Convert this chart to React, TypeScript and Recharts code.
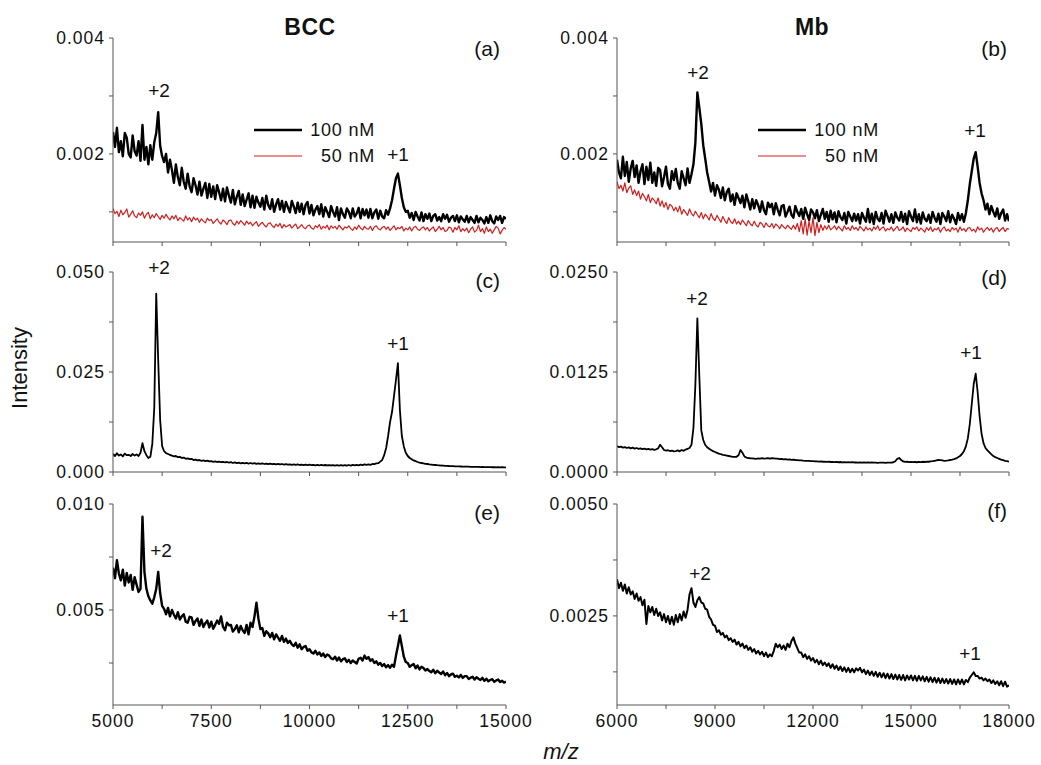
import React from 'react';
import { LineChart, Line, XAxis, YAxis, ReferenceDot, Legend } from 'recharts';

// ---------- m/z grids ----------
const mzBCC = [
  5000,5050,5100,5150,5200,5250,5300,5350,5400,5450,
  5500,5550,5600,5650,5700,5750,5800,5850,5900,5950,
  6000,6050,6100,6150,6200,6250,6300,6350,6400,6450,
  6500,6550,6600,6650,6700,6750,6800,6850,6900,6950,
  7000,7050,7100,7150,7200,7250,7300,7350,7400,7450,
  7500,7550,7600,7650,7700,7750,7800,7850,7900,7950,
  8000,8050,8100,8150,8200,8250,8300,8350,8400,8450,
  8500,8550,8600,8650,8700,8750,8800,8850,8900,8950,
  9000,9050,9100,9150,9200,9250,9300,9350,9400,9450,
  9500,9550,9600,9650,9700,9750,9800,9850,9900,9950,
  10000,10050,10100,10150,10200,10250,10300,10350,10400,10450,
  10500,10550,10600,10650,10700,10750,10800,10850,10900,10950,
  11000,11050,11100,11150,11200,11250,11300,11350,11400,11450,
  11500,11550,11600,11650,11700,11750,11800,11850,11900,11950,
  12000,12050,12100,12150,12200,12250,12300,12350,12400,12450,
  12500,12550,12600,12650,12700,12750,12800,12850,12900,12950,
  13000,13050,13100,13150,13200,13250,13300,13350,13400,13450,
  13500,13550,13600,13650,13700,13750,13800,13850,13900,13950,
  14000,14050,14100,14150,14200,14250,14300,14350,14400,14450,
  14500,14550,14600,14650,14700,14750,14800,14850,14900,14950,
  15000,
];

const mzMb = [
  6000,6060,6120,6180,6240,6300,6360,6420,6480,6540,
  6600,6660,6720,6780,6840,6900,6960,7020,7080,7140,
  7200,7260,7320,7380,7440,7500,7560,7620,7680,7740,
  7800,7860,7920,7980,8040,8100,8160,8220,8280,8340,
  8400,8460,8520,8580,8640,8700,8760,8820,8880,8940,
  9000,9060,9120,9180,9240,9300,9360,9420,9480,9540,
  9600,9660,9720,9780,9840,9900,9960,10020,10080,10140,
  10200,10260,10320,10380,10440,10500,10560,10620,10680,10740,
  10800,10860,10920,10980,11040,11100,11160,11220,11280,11340,
  11400,11460,11520,11580,11640,11700,11760,11820,11880,11940,
  12000,12060,12120,12180,12240,12300,12360,12420,12480,12540,
  12600,12660,12720,12780,12840,12900,12960,13020,13080,13140,
  13200,13260,13320,13380,13440,13500,13560,13620,13680,13740,
  13800,13860,13920,13980,14040,14100,14160,14220,14280,14340,
  14400,14460,14520,14580,14640,14700,14760,14820,14880,14940,
  15000,15060,15120,15180,15240,15300,15360,15420,15480,15540,
  15600,15660,15720,15780,15840,15900,15960,16020,16080,16140,
  16200,16260,16320,16380,16440,16500,16560,16620,16680,16740,
  16800,16860,16920,16980,17040,17100,17160,17220,17280,17340,
  17400,17460,17520,17580,17640,17700,17760,17820,17880,17940,
  18000,
];

// ---------- intensities (units of 1e-5) ----------
// (a) BCC, 100 nM
const bcc100nM = [
  238,212,245,203,222,196,236,228,200,194,
  232,205,197,222,188,250,190,212,182,215,
  190,220,236,272,214,196,186,200,168,190,
  172,150,182,160,146,176,152,140,166,144,
  134,158,146,130,152,128,140,150,124,148,
  126,144,122,146,134,120,140,118,142,128,
  116,138,113,126,136,112,130,110,121,132,
  108,128,107,126,116,109,124,104,128,112,
  105,122,100,113,122,104,119,100,117,108,
  99,119,109,98,116,100,114,96,112,117,
  97,112,94,104,110,96,113,92,108,100,
  91,110,100,92,108,86,106,96,90,106,
  100,89,106,92,97,107,89,105,94,104,
  90,105,89,99,104,88,102,92,89,103,
  95,106,120,140,158,166,146,124,108,100,
  102,90,98,86,100,92,85,99,84,96,
  88,97,84,93,96,85,91,84,96,88,
  95,83,90,93,84,94,82,92,87,83,
  93,82,91,86,81,93,82,90,86,80,
  91,81,94,84,80,92,86,93,81,91,
  88,
];
// (a) BCC, 50 nM
const bcc50nM = [
  106,97,101,92,103,95,99,105,91,96,
  102,93,90,98,94,100,89,96,99,88,
  95,90,97,92,87,94,89,96,90,86,
  93,88,94,85,90,87,84,93,86,90,
  83,91,86,89,82,88,84,81,89,85,
  87,80,84,88,82,79,86,83,78,85,
  86,80,77,84,79,85,81,77,84,79,
  82,76,80,83,75,79,82,77,74,80,
  81,76,73,79,75,80,72,78,74,76,
  78,72,76,79,71,74,78,73,71,76,
  77,72,70,76,73,78,70,75,72,77,
  69,76,72,75,70,77,73,69,74,72,
  76,71,68,74,70,77,72,69,75,71,
  70,75,68,74,76,71,69,73,75,70,
  74,68,72,76,69,73,71,75,67,72,
  69,74,67,73,75,70,68,72,74,69,
  73,67,71,74,66,70,75,69,73,66,
  68,74,72,65,73,69,76,66,71,67,
  72,64,70,74,65,68,77,66,71,63,
  74,66,70,63,69,75,72,62,68,73,
  70,
];
// (b) Mb, 100 nM
const mb100nM = [
  190,168,158,195,162,186,152,175,188,160,
  180,150,170,182,148,178,155,185,150,168,
  145,176,172,144,160,178,148,140,170,155,
  174,150,140,170,158,146,175,150,165,182,
  220,306,280,252,215,192,168,152,135,150,
  128,146,138,124,142,120,134,140,118,130,
  112,132,124,115,128,108,130,118,104,122,
  106,120,112,100,118,103,96,116,108,114,
  96,115,104,94,110,112,92,100,109,95,
  90,110,100,93,105,88,107,96,86,104,
  99,89,103,84,95,105,88,100,83,102,
  87,99,82,101,91,86,98,80,100,92,
  84,97,85,96,80,98,90,83,105,82,
  97,79,100,88,84,98,80,102,93,83,
  96,81,99,90,85,100,83,97,79,101,
  92,84,104,82,96,80,99,88,84,95,
  81,100,90,83,97,79,98,92,84,101,
  82,95,88,79,98,86,96,83,98,120,
  148,170,192,203,178,150,132,120,104,114,
  96,110,100,92,106,88,98,104,85,96,
  84,
];
// (b) Mb, 50 nM
const mb50nM = [
  152,140,146,136,150,133,141,145,130,138,
  128,136,122,132,126,119,130,116,124,120,
  114,124,110,119,108,116,104,113,110,102,
  108,100,110,96,104,99,94,105,97,93,
  101,95,90,99,88,96,92,86,97,89,
  85,94,88,82,92,85,80,90,83,80,
  88,79,84,78,86,81,76,85,79,76,
  84,77,74,82,79,73,81,76,74,80,
  72,79,76,71,78,74,71,77,73,70,
  77,70,80,66,85,62,88,60,84,64,
  90,59,82,64,78,68,76,70,77,69,
  72,76,69,75,71,67,76,70,73,68,
  76,70,73,68,75,71,67,74,69,72,
  67,74,70,76,68,72,74,67,71,69,
  74,67,71,75,68,70,74,66,72,69,
  66,73,70,74,67,72,69,65,73,68,
  74,66,71,69,73,65,71,74,67,70,
  66,73,69,72,65,74,68,71,66,72,
  73,67,70,65,74,69,72,65,70,73,
  68,72,65,71,73,66,70,73,66,71,
  70,
];
// (c) BCC
const bccC = [
  450,400,470,410,440,390,460,420,430,400,
  450,410,440,400,480,720,520,420,350,380,
  700,1600,4460,2800,1300,650,520,470,450,430,
  410,390,400,370,380,350,360,330,340,320,
  330,300,310,290,300,280,290,270,285,265,
  270,255,265,250,260,245,255,240,250,235,
  245,225,240,220,235,218,230,215,228,212,
  225,210,222,205,218,202,215,200,212,198,
  210,195,205,190,202,188,200,185,195,183,
  192,180,190,178,188,175,186,173,184,172,
  182,170,180,168,178,166,176,165,175,164,
  174,163,172,160,171,160,170,158,172,160,
  175,162,178,165,180,168,185,172,190,178,
  190,180,200,195,215,220,260,300,420,600,
  900,1250,1500,1900,2300,2720,1550,900,640,480,
  400,350,320,290,270,250,235,225,215,205,
  200,190,185,178,175,170,168,162,160,155,
  155,150,148,145,143,140,140,138,136,134,
  135,132,130,128,130,126,127,124,126,122,
  124,120,122,119,121,118,120,117,119,116,
  118,
];
// (d) Mb
const mbD = [
  325,310,318,305,312,300,308,296,304,292,
  300,290,296,286,292,284,288,280,285,278,
  284,295,340,310,275,268,272,262,268,258,
  262,270,258,275,265,280,290,300,340,550,
  1100,1920,1200,520,400,340,310,290,275,260,
  250,240,230,222,215,210,205,200,195,190,
  188,190,210,275,240,195,180,175,172,170,
  168,165,170,166,172,168,170,174,168,172,
  170,166,168,162,165,158,160,155,157,152,
  154,150,148,145,146,142,140,138,140,136,
  135,132,134,130,132,128,130,127,129,125,
  127,124,126,122,125,121,124,120,123,120,
  122,119,121,118,121,117,120,117,119,116,
  119,116,118,115,118,116,117,115,118,116,
  118,122,135,165,175,150,132,126,128,124,
  126,123,125,122,126,124,128,125,130,128,
  132,135,140,145,150,148,145,140,142,145,
  150,155,162,170,185,200,225,260,320,420,
  600,850,1100,1230,1000,700,480,360,300,270,
  245,220,200,185,175,165,155,148,140,135,
  130,
];
// (e) BCC
const bccE = [
  700,650,735,672,640,690,615,675,630,665,
  595,655,620,585,600,940,680,600,565,545,
  530,560,600,680,580,520,505,480,510,470,
  500,478,460,490,455,470,480,445,440,468,
  465,430,448,460,425,455,420,438,450,418,
  445,412,430,450,435,470,420,405,440,428,
  430,398,410,428,395,425,404,392,430,385,
  440,420,470,535,460,410,415,378,400,390,
  372,392,362,385,370,355,378,350,365,345,
  355,338,330,345,322,338,315,326,330,308,
  315,300,295,308,290,300,283,295,278,290,
  285,272,268,280,262,276,258,268,272,255,
  265,250,262,255,248,270,275,262,285,270,
  278,260,268,250,258,242,250,236,245,230,
  240,228,242,232,285,330,380,330,280,255,
  250,232,240,245,225,238,220,232,226,215,
  222,212,206,218,202,214,205,198,210,192,
  203,188,196,200,185,190,182,194,180,188,
  188,175,181,185,172,183,176,170,180,166,
  176,164,170,174,162,168,172,160,166,158,
  162,
];
// (f) Mb
const mbF = [
  332,312,324,306,320,300,314,298,305,288,
  300,284,292,274,286,232,272,258,270,252,
  266,250,258,240,254,236,250,232,248,230,
  252,236,254,240,260,246,264,298,312,280,
  270,285,292,280,278,266,264,248,242,230,
  228,214,218,208,212,202,206,196,200,192,
  197,186,192,182,188,178,184,174,180,170,
  176,166,172,164,170,160,168,158,164,160,
  172,188,180,186,176,184,174,188,180,194,
  202,188,178,168,168,158,164,154,160,150,
  156,146,152,142,150,140,146,138,144,134,
  142,132,139,129,137,127,135,125,134,124,
  132,124,133,128,134,124,130,120,128,118,
  126,116,125,114,123,113,122,111,121,110,
  120,109,119,108,118,107,118,106,117,108,
  117,106,116,105,116,106,115,104,114,103,
  113,102,112,101,111,100,110,100,109,99,
  109,98,108,97,108,98,108,97,107,102,
  112,118,124,116,116,110,112,106,110,104,
  108,100,106,98,104,95,104,93,103,92,
  95,
];

// ---------- ticks & labels ----------
const bccXTicks = [5000, 6250, 7500, 8750, 10000, 11250, 12500, 13750, 15000];
const bccXLabels = ['5000', '', '7500', '', '10000', '', '12500', '', '15000'];
const mbXTicks = [6000, 7500, 9000, 10500, 12000, 13500, 15000, 16500, 18000];
const mbXLabels = ['6000', '', '9000', '', '12000', '', '15000', '', '18000'];
const noLabels = ['', '', '', '', '', '', '', '', ''];

const yTicksAB = [100, 200, 300, 400];
const yLabelsAB = ['', '0.002', '', '0.004'];
const yTicksC = [0, 1250, 2500, 3750, 5000];
const yLabelsC = ['0.000', '', '0.025', '', '0.050'];
const yTicksD = [0, 625, 1250, 1875, 2500];
const yLabelsD = ['0.0000', '', '0.0125', '', '0.0250'];
const yTicksE = [250, 500, 750, 1000];
const yLabelsE = ['', '0.005', '', '0.010'];
const yTicksF = [125, 250, 375, 500];
const yLabelsF = ['', '0.0025', '', '0.0050'];

const legendLabels = ['100 nM', '50 nM'];
const columnTitles = ['BCC', 'Mb'];
const panelTags = ['(a)', '(b)', '(c)', '(d)', '(e)', '(f)'];

// charge-state annotations (data coordinates)
const notesA = [{ x: 6170, y: 310, t: '+2' }, { x: 12252, y: 200, t: '+1' }];
const notesB = [{ x: 8480, y: 341, t: '+2' }, { x: 16959, y: 241, t: '+1' }];
const notesC = [{ x: 6170, y: 5125, t: '+2' }, { x: 12252, y: 3225, t: '+1' }];
const notesD = [{ x: 8449, y: 2175, t: '+2' }, { x: 16837, y: 1500, t: '+1' }];
const notesE = [{ x: 6221, y: 783, t: '+2' }, { x: 12252, y: 476, t: '+1' }];
const notesF = [{ x: 8541, y: 346, t: '+2' }, { x: 16806, y: 167, t: '+1' }];

// ---------- tables ----------
const rowsA = mzBCC.map((x, i) => ({ x, hi: bcc100nM[i], lo: bcc50nM[i] }));
const rowsB = mzMb.map((x, i) => ({ x, hi: mb100nM[i], lo: mb50nM[i] }));
const rowsC = mzBCC.map((x, i) => ({ x, v: bccC[i] }));
const rowsD = mzMb.map((x, i) => ({ x, v: mbD[i] }));
const rowsE = mzBCC.map((x, i) => ({ x, v: bccE[i] }));
const rowsF = mzMb.map((x, i) => ({ x, v: mbF[i] }));

const FONT = "'Liberation Sans', Arial, Helvetica, sans-serif";
const RED = '#d01e1e';
const AXIS = '#555';

const makeTick = (ticks: number[], labels: string[], axis: 'x' | 'y') => (props: any) => {
  const { x, y, payload } = props;
  const idx = ticks.indexOf(payload.value);
  const label = idx >= 0 ? labels[idx] : '';
  if (!label) return <g />;
  if (axis === 'y') {
    return (
      <text x={x} y={y} dy="0.36em" textAnchor="end" fontSize={17.5} fill="#111" letterSpacing={1} fontFamily={FONT}>
        {label}
      </text>
    );
  }
  return (
    <text x={x} y={y} dy="0.71em" textAnchor="middle" fontSize={17.5} fill="#111" letterSpacing={1} fontFamily={FONT}>
      {label}
    </text>
  );
};

const LegendBox = () => (
  <svg width={130} height={52} style={{ overflow: 'visible' }}>
    <line x1={0} y1={12} x2={48} y2={12} stroke="#000" strokeWidth={2.4} />
    <text x={121} y={12} dy="0.36em" textAnchor="end" fontSize={18} letterSpacing={0.8} fill="#111" fontFamily={FONT}>
      {legendLabels[0]}
    </text>
    <line x1={0} y1={38} x2={48} y2={38} stroke={RED} strokeWidth={1} />
    <text x={121} y={38} dy="0.36em" textAnchor="end" fontSize={18} letterSpacing={0.8} fill="#111" fontFamily={FONT}>
      {legendLabels[1]}
    </text>
  </svg>
);

const ML = 100;
const MT = 20;
const MR = 30;

type SeriesDef = { key: string; color: string; width: number };
type PanelProps = {
  plot: { x: number; y: number; w: number; h: number };
  data: any[];
  series: SeriesDef[];
  xDomain: [number, number];
  xTicks: number[];
  xLabels: string[];
  yDomain: [number, number];
  yTicks: number[];
  yLabels: string[];
  showX: boolean;
  notes: { x: number; y: number; t: string }[];
  legend?: boolean;
};

function Panel(p: PanelProps) {
  const MB = p.showX ? 40 : 12;
  const W = ML + p.plot.w + MR;
  const H = MT + p.plot.h + MB;
  return (
    <div style={{ position: 'absolute', left: p.plot.x - ML, top: p.plot.y - MT }}>
      <LineChart width={W} height={H} data={p.data} margin={{ top: MT, right: MR, left: 0, bottom: 0 }}>
        <XAxis
          type="number"
          dataKey="x"
          domain={p.xDomain}
          ticks={p.xTicks}
          interval={0}
          allowDataOverflow
          height={MB}
          tickSize={4}
          tickMargin={6}
          stroke={AXIS}
          tick={makeTick(p.xTicks, p.xLabels, 'x')}
        />
        <YAxis
          type="number"
          domain={p.yDomain}
          ticks={p.yTicks}
          interval={0}
          allowDataOverflow
          width={ML}
          tickSize={4}
          tickMargin={4}
          stroke={AXIS}
          tick={makeTick(p.yTicks, p.yLabels, 'y')}
        />
        {p.series.map((s) => (
          <Line
            key={s.key}
            type="linear"
            dataKey={s.key}
            stroke={s.color}
            strokeWidth={s.width}
            strokeLinejoin="round"
            dot={false}
            activeDot={false}
            isAnimationActive={false}
          />
        ))}
        {p.notes.map((n, i) => (
          <ReferenceDot
            key={i}
            x={n.x}
            y={n.y}
            r={0}
            fill="none"
            stroke="none"
            ifOverflow="visible"
            label={{ value: n.t, position: 'center', fontSize: 19, fill: '#111', fontFamily: FONT }}
          />
        ))}
        {p.legend && (
          <Legend
            layout="vertical"
            align="center"
            verticalAlign="middle"
            width={130}
            height={52}
            wrapperStyle={{ left: 241, top: 100, width: 130, height: 52 }}
            content={() => <LegendBox />}
          />
        )}
      </LineChart>
    </div>
  );
}

const txt = (
  s: string,
  cx: number,
  cy: number,
  size: number,
  extra: React.CSSProperties = {},
  anchor: 'center' | 'right' = 'center'
) => (
  <div
    style={{
      position: 'absolute',
      left: anchor === 'center' ? cx : undefined,
      right: anchor === 'right' ? 1041 - cx : undefined,
      top: cy,
      transform: anchor === 'center' ? 'translate(-50%, -50%)' : 'translateY(-50%)',
      fontSize: size,
      lineHeight: 1,
      whiteSpace: 'nowrap',
      color: '#111',
      ...extra,
    }}
  >
    {s}
  </div>
);

export default function App() {
  const blackHi = { key: 'hi', color: '#000', width: 2.4 };
  const redLo = { key: 'lo', color: RED, width: 1.2 };
  const single = { key: 'v', color: '#000', width: 1.8 };
  const noisyE = { key: 'v', color: '#000', width: 2.4 };
  const noisyF = { key: 'v', color: '#000', width: 2 };
  return (
    <div
      style={{
        position: 'absolute',
        left: 0,
        top: 0,
        width: 1041,
        height: 765,
        background: '#fff',
        fontFamily: FONT,
        overflow: 'hidden',
      }}
    >
      <Panel
        plot={{ x: 113, y: 38, w: 393, h: 204 }}
        data={rowsA}
        series={[blackHi, redLo]}
        xDomain={[5000, 15000]}
        xTicks={bccXTicks}
        xLabels={noLabels}
        yDomain={[48, 400]}
        yTicks={yTicksAB}
        yLabels={yLabelsAB}
        showX={false}
        notes={notesA}
        legend
      />
      <Panel
        plot={{ x: 617, y: 38, w: 392, h: 204 }}
        data={rowsB}
        series={[blackHi, redLo]}
        xDomain={[6000, 18000]}
        xTicks={mbXTicks}
        xLabels={noLabels}
        yDomain={[48, 400]}
        yTicks={yTicksAB}
        yLabels={yLabelsAB}
        showX={false}
        notes={notesB}
        legend
      />
      <Panel
        plot={{ x: 113, y: 272, w: 393, h: 200 }}
        data={rowsC}
        series={[single]}
        xDomain={[5000, 15000]}
        xTicks={bccXTicks}
        xLabels={noLabels}
        yDomain={[0, 5000]}
        yTicks={yTicksC}
        yLabels={yLabelsC}
        showX={false}
        notes={notesC}
      />
      <Panel
        plot={{ x: 617, y: 272, w: 392, h: 200 }}
        data={rowsD}
        series={[single]}
        xDomain={[6000, 18000]}
        xTicks={mbXTicks}
        xLabels={noLabels}
        yDomain={[0, 2500]}
        yTicks={yTicksD}
        yLabels={yLabelsD}
        showX={false}
        notes={notesD}
      />
      <Panel
        plot={{ x: 113, y: 504, w: 393, h: 201 }}
        data={rowsE}
        series={[noisyE]}
        xDomain={[5000, 15000]}
        xTicks={bccXTicks}
        xLabels={bccXLabels}
        yDomain={[52, 1000]}
        yTicks={yTicksE}
        yLabels={yLabelsE}
        showX
        notes={notesE}
      />
      <Panel
        plot={{ x: 617, y: 504, w: 392, h: 201 }}
        data={rowsF}
        series={[noisyF]}
        xDomain={[6000, 18000]}
        xTicks={mbXTicks}
        xLabels={mbXLabels}
        yDomain={[51, 500]}
        yTicks={yTicksF}
        yLabels={yLabelsF}
        showX
        notes={notesF}
      />

      {txt(columnTitles[0], 310, 27, 23, { fontWeight: 700, letterSpacing: 0.5 })}
      {txt(columnTitles[1], 812, 27, 23, { fontWeight: 700, letterSpacing: 0.5 })}

      {txt(panelTags[0], 500, 48, 21, {}, 'right')}
      {txt(panelTags[1], 1007, 48, 21, {}, 'right')}
      {txt(panelTags[2], 500, 280, 21, {}, 'right')}
      {txt(panelTags[3], 1007, 277, 21, {}, 'right')}
      {txt(panelTags[4], 500, 512, 21, {}, 'right')}
      {txt(panelTags[5], 1007, 510, 21, {}, 'right')}

      <div
        style={{
          position: 'absolute',
          left: 20,
          top: 368,
          transform: 'translate(-50%, -50%) rotate(-90deg)',
          fontSize: 22,
          lineHeight: 1,
          whiteSpace: 'nowrap',
          color: '#111',
        }}
      >
        Intensity
      </div>
      {txt('m/z', 561, 752, 22, { fontStyle: 'italic' })}
    </div>
  );
}
